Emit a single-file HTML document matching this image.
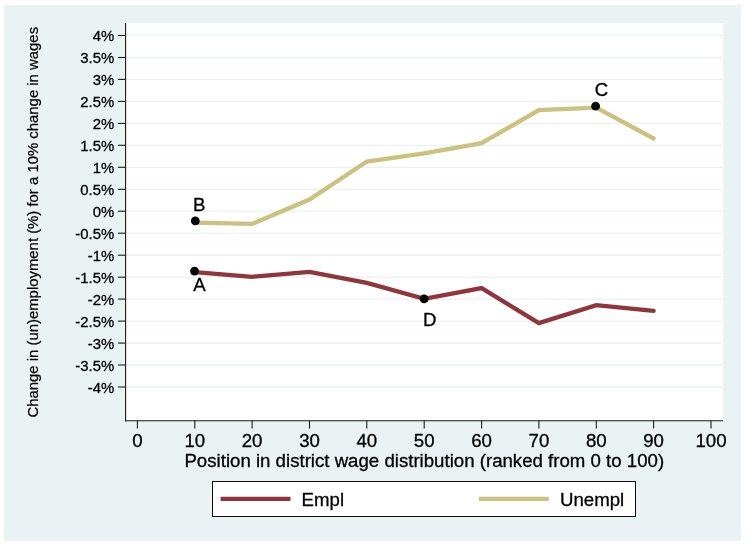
<!DOCTYPE html>
<html><head><meta charset="utf-8"><title>chart</title>
<style>
html,body{margin:0;padding:0;background:#fff;}
body{width:747px;height:547px;overflow:hidden;}
svg{display:block;will-change:transform;}
text{font-family:"Liberation Sans",sans-serif;fill:#000;stroke:#000;stroke-width:0.3px;stroke-linejoin:round;}
</style></head><body>
<svg width="747" height="547" viewBox="0 0 747 547">
<rect x="0" y="0" width="747" height="547" fill="#ffffff"/>
<rect x="4" y="5" width="737" height="536" fill="#eaf2f3"/>
<rect x="125.6" y="23.1" width="597.4" height="397.7" fill="#ffffff"/>
<g stroke="#eaf2f3" stroke-width="1.3">
<line x1="125.6" x2="723" y1="35.5" y2="35.5"/>
<line x1="125.6" x2="723" y1="57.5" y2="57.5"/>
<line x1="125.6" x2="723" y1="79.4" y2="79.4"/>
<line x1="125.6" x2="723" y1="101.4" y2="101.4"/>
<line x1="125.6" x2="723" y1="123.4" y2="123.4"/>
<line x1="125.6" x2="723" y1="145.3" y2="145.3"/>
<line x1="125.6" x2="723" y1="167.3" y2="167.3"/>
<line x1="125.6" x2="723" y1="189.3" y2="189.3"/>
<line x1="125.6" x2="723" y1="211.2" y2="211.2"/>
<line x1="125.6" x2="723" y1="233.2" y2="233.2"/>
<line x1="125.6" x2="723" y1="255.2" y2="255.2"/>
<line x1="125.6" x2="723" y1="277.2" y2="277.2"/>
<line x1="125.6" x2="723" y1="299.1" y2="299.1"/>
<line x1="125.6" x2="723" y1="321.1" y2="321.1"/>
<line x1="125.6" x2="723" y1="343.1" y2="343.1"/>
<line x1="125.6" x2="723" y1="365.0" y2="365.0"/>
<line x1="125.6" x2="723" y1="387.0" y2="387.0"/>
</g>
<g stroke="#1a1a1a" stroke-width="1.1" fill="none">
<line x1="125.6" x2="125.6" y1="23.1" y2="421.45"/>
<line x1="124.94999999999999" x2="723" y1="420.8" y2="420.8"/>
<line x1="118.0" x2="125.6" y1="35.5" y2="35.5"/>
<line x1="118.0" x2="125.6" y1="57.5" y2="57.5"/>
<line x1="118.0" x2="125.6" y1="79.4" y2="79.4"/>
<line x1="118.0" x2="125.6" y1="101.4" y2="101.4"/>
<line x1="118.0" x2="125.6" y1="123.4" y2="123.4"/>
<line x1="118.0" x2="125.6" y1="145.3" y2="145.3"/>
<line x1="118.0" x2="125.6" y1="167.3" y2="167.3"/>
<line x1="118.0" x2="125.6" y1="189.3" y2="189.3"/>
<line x1="118.0" x2="125.6" y1="211.2" y2="211.2"/>
<line x1="118.0" x2="125.6" y1="233.2" y2="233.2"/>
<line x1="118.0" x2="125.6" y1="255.2" y2="255.2"/>
<line x1="118.0" x2="125.6" y1="277.2" y2="277.2"/>
<line x1="118.0" x2="125.6" y1="299.1" y2="299.1"/>
<line x1="118.0" x2="125.6" y1="321.1" y2="321.1"/>
<line x1="118.0" x2="125.6" y1="343.1" y2="343.1"/>
<line x1="118.0" x2="125.6" y1="365.0" y2="365.0"/>
<line x1="118.0" x2="125.6" y1="387.0" y2="387.0"/>
<line x1="137.4" x2="137.4" y1="420.8" y2="428.6"/>
<line x1="194.8" x2="194.8" y1="420.8" y2="428.6"/>
<line x1="252.1" x2="252.1" y1="420.8" y2="428.6"/>
<line x1="309.5" x2="309.5" y1="420.8" y2="428.6"/>
<line x1="366.8" x2="366.8" y1="420.8" y2="428.6"/>
<line x1="424.2" x2="424.2" y1="420.8" y2="428.6"/>
<line x1="481.6" x2="481.6" y1="420.8" y2="428.6"/>
<line x1="538.9" x2="538.9" y1="420.8" y2="428.6"/>
<line x1="596.3" x2="596.3" y1="420.8" y2="428.6"/>
<line x1="653.6" x2="653.6" y1="420.8" y2="428.6"/>
<line x1="711.0" x2="711.0" y1="420.8" y2="428.6"/>
</g>
<g font-size="14.9" text-anchor="end" style="stroke-width:0.22px">
<text x="114.2" y="41.4">4%</text>
<text x="114.2" y="63.4">3.5%</text>
<text x="114.2" y="85.3">3%</text>
<text x="114.2" y="107.3">2.5%</text>
<text x="114.2" y="129.3">2%</text>
<text x="114.2" y="151.2">1.5%</text>
<text x="114.2" y="173.2">1%</text>
<text x="114.2" y="195.2">0.5%</text>
<text x="114.2" y="217.2">0%</text>
<text x="114.2" y="239.1">-0.5%</text>
<text x="114.2" y="261.1">-1%</text>
<text x="114.2" y="283.1">-1.5%</text>
<text x="114.2" y="305.0">-2%</text>
<text x="114.2" y="327.0">-2.5%</text>
<text x="114.2" y="349.0">-3%</text>
<text x="114.2" y="370.9">-3.5%</text>
<text x="114.2" y="392.9">-4%</text>
</g>
<g font-size="18.65" text-anchor="middle">
<text x="137.4" y="446.6">0</text>
<text x="194.8" y="446.6">10</text>
<text x="252.1" y="446.6">20</text>
<text x="309.5" y="446.6">30</text>
<text x="366.8" y="446.6">40</text>
<text x="424.2" y="446.6">50</text>
<text x="481.6" y="446.6">60</text>
<text x="538.9" y="446.6">70</text>
<text x="596.3" y="446.6">80</text>
<text x="653.6" y="446.6">90</text>
<text x="711.0" y="446.6">100</text>
</g>
<text x="424.3" y="466.7" font-size="18.65" text-anchor="middle">Position in district wage distribution (ranked from 0 to 100)</text>
<text transform="translate(38.2,222.25) rotate(-90)" font-size="14.9" text-anchor="middle" style="stroke-width:0.22px">Change in (un)employment (%) for a 10% change in wages</text>
<path d="M194.8,272.2 L252.1,276.8 L309.5,271.9 L366.8,282.9 L424.2,298.9 L481.6,288.1 L538.9,323.1 L596.3,305.1 L653.6,310.9" fill="none" stroke="#90353b" stroke-width="4.3" stroke-linejoin="miter" stroke-linecap="round"/>
<path d="M194.8,222.6 L252.1,223.9 L309.5,199.5 L366.8,161.5 L424.2,153.4 L481.6,143.1 L538.9,110.2 L596.3,107.7 L653.6,138.5" fill="none" stroke="#cac27e" stroke-width="4.3" stroke-linejoin="miter" stroke-linecap="round"/>
<circle cx="195.3" cy="220.9" r="4.4" fill="#000"/>
<circle cx="194.5" cy="271.1" r="4.4" fill="#000"/>
<circle cx="424.1" cy="298.9" r="4.4" fill="#000"/>
<circle cx="595.6" cy="106.2" r="4.4" fill="#000"/>
<g font-size="18.65">
<text x="192.9" y="211">B</text>
<text x="193.2" y="291">A</text>
<text x="423" y="325.7">D</text>
<text x="594.7" y="96">C</text>
</g>
<rect x="212.5" y="481.5" width="423" height="35" fill="#fff" stroke="#000" stroke-width="0.95"/>
<line x1="220.6" x2="290.5" y1="498.85" y2="498.85" stroke="#90353b" stroke-width="4.3"/>
<line x1="479" x2="548.8" y1="498.85" y2="498.85" stroke="#cac27e" stroke-width="4.3"/>
<text x="301.6" y="505.7" font-size="18.65">Empl</text>
<text x="560" y="505.7" font-size="18.65">Unempl</text>
</svg>
</body></html>
